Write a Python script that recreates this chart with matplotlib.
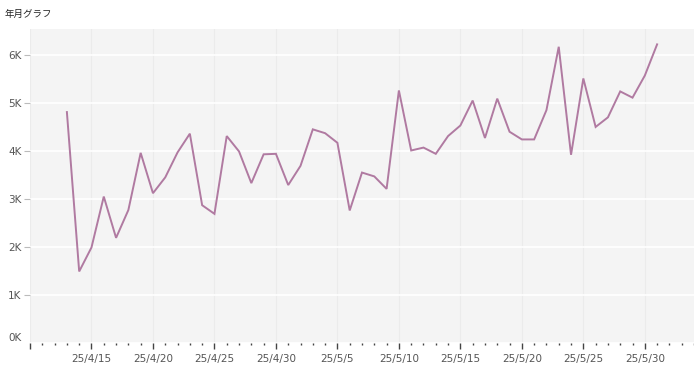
import numpy as np
import pandas as pd
import matplotlib
matplotlib.use("Agg")
import matplotlib.pyplot as plt
import matplotlib.dates as mdates
import matplotlib.transforms as mtransforms
from matplotlib.ticker import FuncFormatter, FixedLocator

plt.rcParams['font.family'] = ['Noto Sans CJK JP', 'DejaVu Sans']

# daily values (thousands), 2025-04-13 .. 2025-05-31
start_date = "2025-04-13"
values = [4.81, 1.49, 1.99, 3.05, 2.19, 2.77, 3.96, 3.12, 3.45, 3.97,
          4.36, 2.87, 2.69, 4.31, 3.99, 3.33, 3.93, 3.94, 3.29, 3.69,
          4.45, 4.37, 4.17, 2.76, 3.55, 3.47, 3.21, 5.26, 4.01, 4.07,
          3.94, 4.31, 4.53, 5.05, 4.27, 5.09, 4.40, 4.24, 4.24, 4.85,
          6.17, 3.92, 5.51, 4.50, 4.70, 5.24, 5.11, 5.57, 6.22]
values = np.array(values) * 1000
dates = pd.date_range(start_date, periods=len(values), freq="D")

title = "年月グラフ"
x_start, x_end = pd.Timestamp("2025-04-10"), pd.Timestamp("2025-06-03")
y_ticks = [0, 1000, 2000, 3000, 4000, 5000, 6000]

W, H = 694, 373
fig = plt.figure(figsize=(W / 100, H / 100), dpi=100)
fig.patch.set_facecolor("white")
ax = fig.add_axes([30 / W, (H - 343) / H, (W - 30) / W, (343 - 29) / H])
ax.set_facecolor("#f4f4f4")

ax.plot(dates, values, color="#b07aa1", lw=1.4, solid_joinstyle="miter")

ax.set_xlim(x_start, x_end)
ax.set_ylim(0, 6540)
ax.set_yticks(y_ticks)
ax.yaxis.set_major_formatter(FuncFormatter(lambda v, p: f"{int(v / 1000)}K"))

major_days = pd.date_range("2025-04-10", "2025-05-30", freq="5D")
ax.xaxis.set_major_locator(FixedLocator(mdates.date2num(major_days)))
ax.xaxis.set_minor_locator(mdates.DayLocator())
ax.set_xticklabels([""] + [f"{d.year % 100}/{d.month}/{d.day}" for d in major_days[1:]])

ax.grid(axis="y", color="white", lw=1.2)
ax.grid(axis="x", which="major", color="#ebebeb", lw=0.8)
ax.set_axisbelow(True)
for s in ax.spines.values():
    s.set_visible(False)

ax.tick_params(axis="y", length=4, width=0.8, color="#bbbbbb", labelsize=7.5,
               labelcolor="#555555", pad=2)
ax.tick_params(axis="x", which="major", length=4, width=1, color="#444444",
               labelsize=7.5, labelcolor="#555555", pad=4)
ax.tick_params(axis="x", which="minor", length=1.5, width=1, color="#444444")
for lbl in ax.get_xticklabels() + ax.get_yticklabels():
    lbl.set_family("DejaVu Sans")

# the 0K label sits a little above the axis, without a tick mark
ax.yaxis.get_major_ticks()[0].tick1line.set_visible(False)
zero_lbl = ax.get_yticklabels()[0]
zero_lbl.set_transform(zero_lbl.get_transform() +
                       mtransforms.ScaledTranslation(0, 6 / 100, fig.dpi_scale_trans))

fig.text(5 / W, 1 - 14 / H, title, fontsize=6.8, color="#222222",
         va="center", ha="left")

fig.savefig("out.png", dpi=100)
